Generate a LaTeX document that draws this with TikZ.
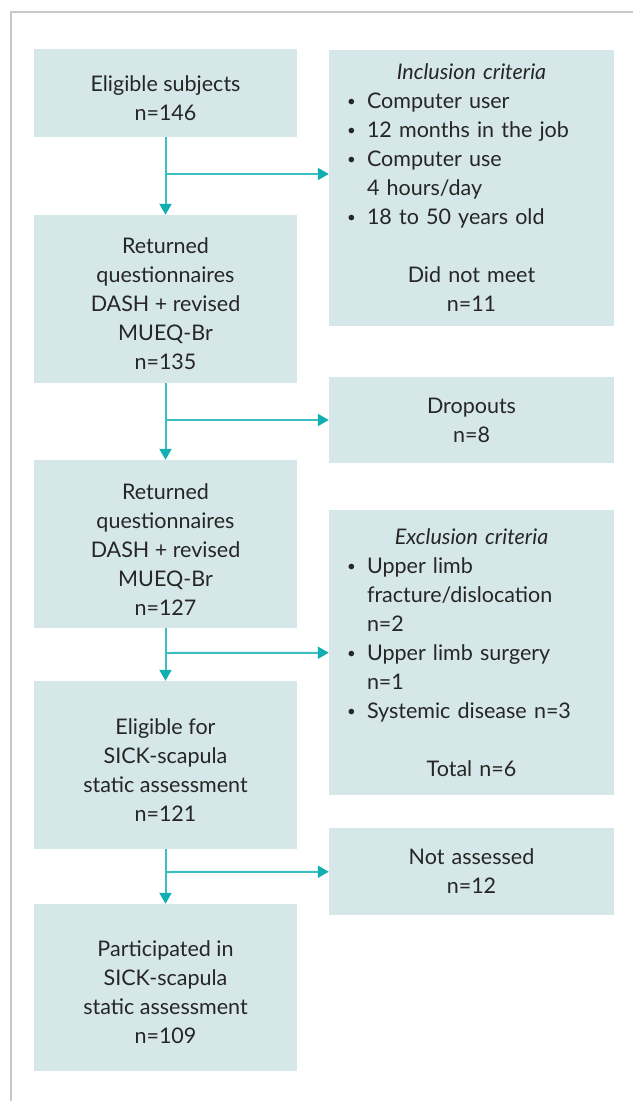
\documentclass[tikz,border=0pt]{standalone}
\usepackage{fontspec}
\setmainfont{Lato}
\usetikzlibrary{arrows.meta,positioning}
\definecolor{boxfill}{HTML}{D5E7E8}
\definecolor{flowline}{HTML}{3DBFC1}
\definecolor{flowtip}{HTML}{12AFB2}
\definecolor{framegray}{HTML}{C8C8C8}
\definecolor{txt}{HTML}{262626}
\newcommand{\bitem}[1]{\par\noindent\hangindent=20pt\hangafter=1\makebox[20pt][l]{\raisebox{2pt}{\fontsize{15}{15}\selectfont\textbullet}}#1}
\newcommand{\toppad}{\rule{0pt}{26pt}}
\begin{document}
\begin{tikzpicture}[x=1pt,y=-1pt,
  box/.style={fill=boxfill, text=txt, minimum width=263pt, align=center, inner sep=0pt, font=\fontsize{21.5}{29}\selectfont},
  sidebox/.style={fill=boxfill, text=txt, minimum width=285pt, text width=249pt, inner xsep=18pt, inner ysep=0pt, align=left, font=\fontsize{21.5}{29}\selectfont},
  flow/.style={draw=flowline, line width=2pt, -{Triangle[length=11pt,width=12pt,color=flowtip]}}]
  \useasboundingbox (0,0) rectangle (633,1101);
  \draw[framegray, line width=2pt] (11,1101) -- (11,12) -- (633,12);

  % main column
  \node[box, minimum height=88pt] (elig) at (165.5,93) {\toppad Eligible subjects\\n=146};
  \node[box, minimum height=168pt] (ret1) at (165.5,299) {\toppad Returned\\questionnaires\\DASH + revised\\MUEQ-Br\\n=135};
  \node[box, minimum height=168pt] (ret2) at (165.5,544) {\toppad Returned\\questionnaires\\DASH + revised\\MUEQ-Br\\n=127};
  \node[box, minimum height=168pt] (static) at (165.5,765) {\toppad Eligible for\\SICK-scapula\\static assessment\\n=121};
  \node[box, minimum height=167pt] (part) at (165.5,987.5) {\toppad Participated in\\SICK-scapula\\static assessment\\n=109};

  % side boxes
  \node[sidebox, minimum height=276pt] (incl) at (471.5,188) {%
    {\centering\itshape Inclusion criteria\par}
    \bitem{Computer user}
    \bitem{12 months in the job}
    \bitem{Computer use\newline 4 hours/day}
    \bitem{18 to 50 years old}
    \par\vspace{29pt}
    {\centering Did not meet\\n=11\par}};
  \node[sidebox, minimum height=86pt, align=center] (drop) at (471.5,420) {Dropouts\\n=8};
  \node[sidebox, minimum height=285pt] (excl) at (471.5,652.5) {%
    {\centering\itshape Exclusion criteria\par}
    \bitem{Upper limb\newline fracture/dislocation\newline n=2}
    \bitem{Upper limb surgery\newline n=1}
    \bitem{Systemic disease n=3}
    \par\vspace{29pt}
    {\centering Total n=6\par}};
  \node[sidebox, minimum height=87pt, align=center] (notass) at (471.5,871.5) {Not assessed\\n=12};

  % connectors
  \coordinate (j1) at (166,174);
  \coordinate (j2) at (166,420);
  \coordinate (j3) at (166,653);
  \coordinate (j4) at (166,872);
  \draw[flow] (elig) -- (ret1);
  \draw[flow] (ret1) -- (ret2);
  \draw[flow] (ret2) -- (static);
  \draw[flow] (static) -- (part);
  \draw[flow] (j1) -- (j1 -| incl.west);
  \draw[flow] (j2) -- (drop);
  \draw[flow] (j3) -- (excl);
  \draw[flow] (j4) -- (notass);
\end{tikzpicture}
\end{document}
